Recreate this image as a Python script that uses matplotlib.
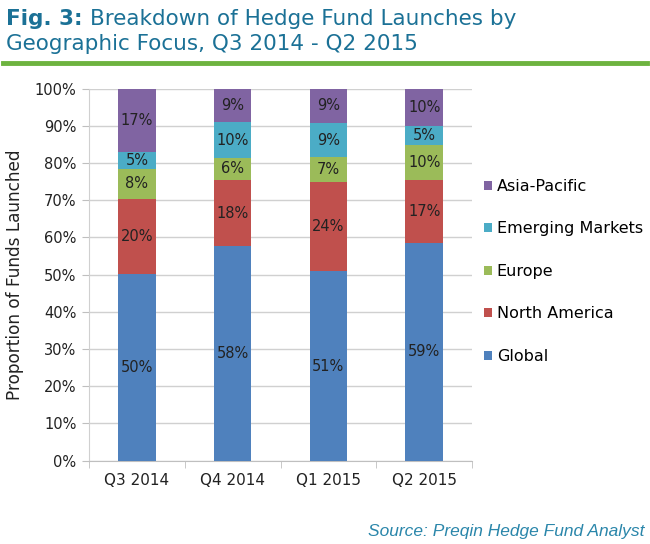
import numpy as np
import matplotlib
matplotlib.use("Agg")
from matplotlib import pyplot as plt

quarters = ['Q3 2014', 'Q4 2014', 'Q1 2015', 'Q2 2015']
series = ['Global', 'North America', 'Europe', 'Emerging Markets', 'Asia-Pacific']
global_ = [50.2, 57.6, 50.9, 58.5]
north_america = [20.1, 17.9, 24.1, 16.9]
europe = [8.2, 5.9, 6.7, 9.6]
emerging = [4.6, 9.6, 9.0, 5.1]
asia_pacific = [16.9, 9.0, 9.3, 9.9]
labels = [['50%', '58%', '51%', '59%'],
          ['20%', '18%', '24%', '17%'],
          ['8%', '6%', '7%', '10%'],
          ['5%', '10%', '9%', '5%'],
          ['17%', '9%', '9%', '10%']]
colors = ['#4f81bd', '#c0504d', '#9bbb59', '#4bacc6', '#8064a2']

plt.rcParams['font.family'] = ['DejaVu Sans']

fig = plt.figure(figsize=(6.5, 5.44), dpi=100)
ax = fig.add_axes([89/650, 1-460.7/544, 383/650, 372/544])

values = [global_, north_america, europe, emerging, asia_pacific]
x = np.arange(len(quarters))
bottom = np.zeros(len(quarters))
for i, vals in enumerate(values):
    vals = np.array(vals)
    bars = ax.bar(x, vals, 0.39, bottom=bottom, color=colors[i], label=series[i], zorder=3)
    ax.bar_label(bars, labels=labels[i], label_type='center', fontsize=10.5, color='#222222')
    bottom += vals

ax.set_xlim(-0.5, 3.5)
ax.set_ylim(0, 100)
ax.set_yticks(np.arange(0, 101, 10))
ax.set_yticklabels(['%d%%' % v for v in range(0, 101, 10)], fontsize=10.5, color='#222222')
ax.set_xticks(x)
ax.set_xticklabels(quarters, fontsize=11, color='#222222')
ax.set_xticks(np.arange(-0.5, 4, 1), minor=True)
ax.tick_params(axis='x', which='major', length=0, pad=9)
ax.tick_params(axis='x', which='minor', length=5, color='#bfbfbf')
ax.tick_params(axis='y', length=5, color='#bfbfbf', pad=4)
ax.grid(axis='y', color='#d0d0d0', linewidth=1, zorder=0)
for s in ['top', 'right']:
    ax.spines[s].set_visible(False)
ax.spines['left'].set_color('#d0d0d0')
ax.spines['bottom'].set_color('#bfbfbf')
ax.set_ylabel('Proportion of Funds Launched', fontsize=12.2, color='#222222', labelpad=8)

h, l = ax.get_legend_handles_labels()
leg = fig.legend(h[::-1], l[::-1], loc='upper left', bbox_to_anchor=(484/650, 1-179/544),
                 frameon=False, fontsize=11.5, handlelength=0.5, handleheight=0.5,
                 handletextpad=0.3, labelspacing=1.72, borderpad=0, borderaxespad=0)

title_color = '#1b7196'
fig_txt = fig.text(6/650, 1-25/544, 'Fig. 3:', fontsize=15.5, fontweight='bold',
                   color=title_color, va='baseline')
fig.canvas.draw()
bb = fig_txt.get_window_extent()
fig.text(bb.x1/650 + 8/650, 1-25/544, 'Breakdown of Hedge Fund Launches by', fontsize=15.5,
         color=title_color, va='baseline')
fig.text(6/650, 1-50/544, 'Geographic Focus, Q3 2014 - Q2 2015', fontsize=15.5,
         color=title_color, va='baseline')
fig.add_artist(plt.Line2D([3/650, 647/650], [1-63/544, 1-63/544], color='#6db33f', linewidth=3.5))

fig.text(645/650, 1-536/544, 'Source: Preqin Hedge Fund Analyst', fontsize=12.5, style='italic',
         color='#2a86aa', ha='right', family=['Liberation Sans', 'DejaVu Sans'])

fig.savefig('out.png', dpi=100)
